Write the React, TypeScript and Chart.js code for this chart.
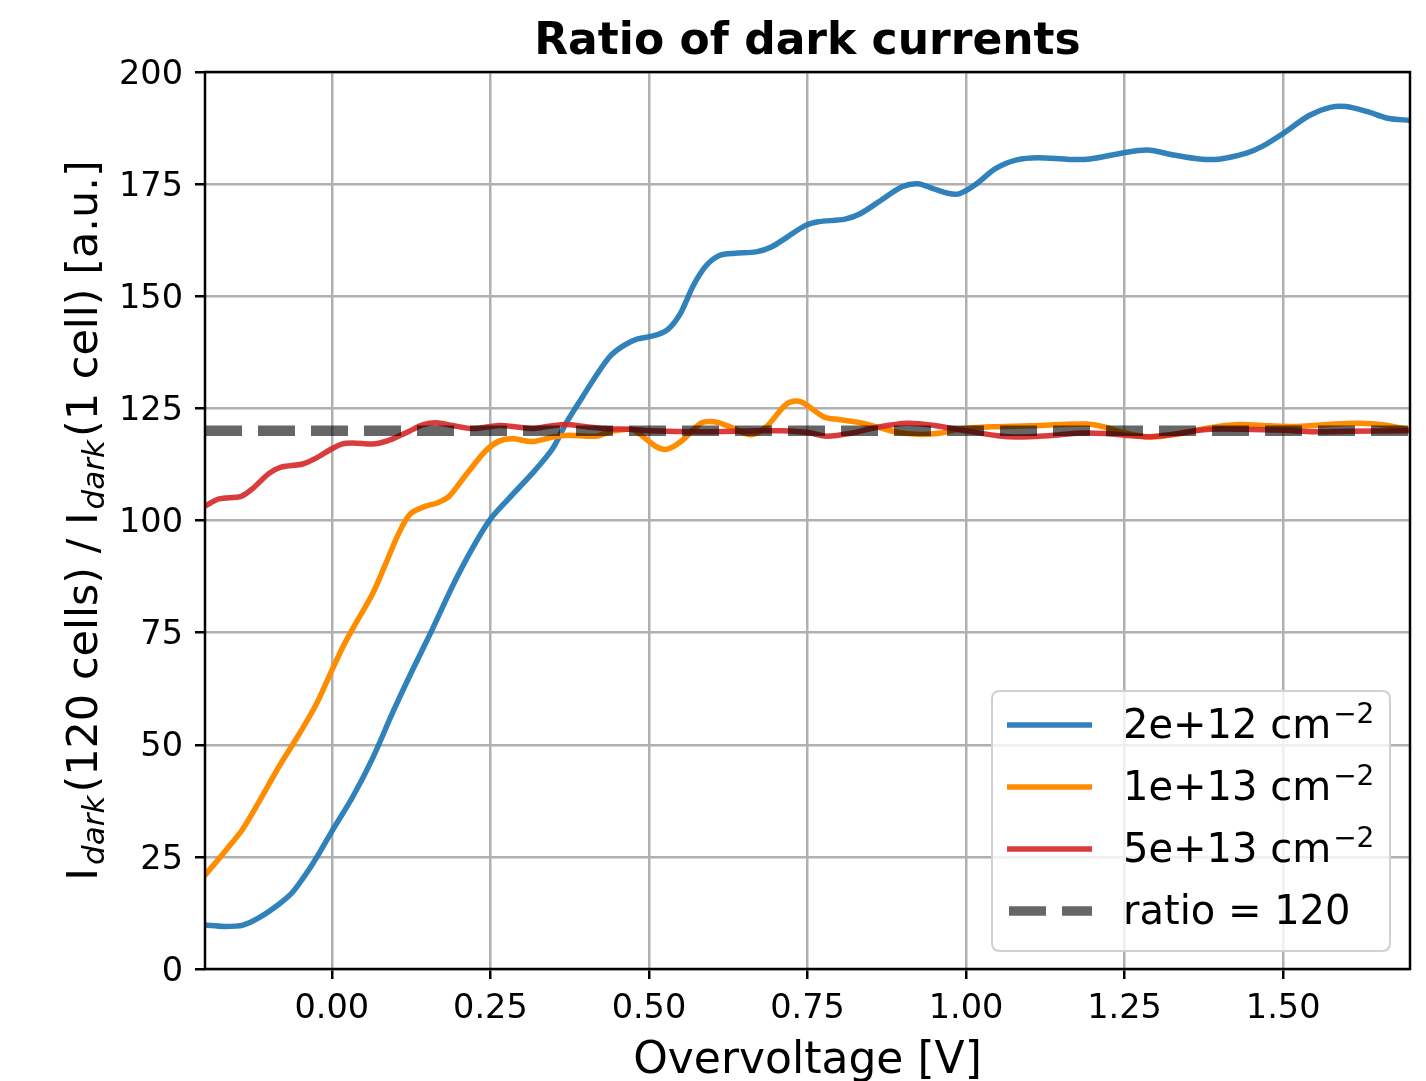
import React, { useEffect, useRef } from 'react';
import { Chart, registerables } from 'chart.js';

Chart.register(...registerables);

// ---------- data ----------
const X_MIN = -0.2;
const X_MAX = 1.7;
const Y_MIN = 0;
const Y_MAX = 200;
const X_TICKS = [0, 0.25, 0.5, 0.75, 1.0, 1.25, 1.5];
const X_TICK_LABELS = ['0.00', '0.25', '0.50', '0.75', '1.00', '1.25', '1.50'];
const Y_TICKS = [0, 25, 50, 75, 100, 125, 150, 175, 200];

const TITLE = 'Ratio of dark currents';
const X_LABEL = 'Overvoltage [V]';

const BLUE_X = [-0.2, -0.17, -0.14, -0.114, -0.083, -0.062, -0.036, -0.018, 0, 0.033, 0.064, 0.096, 0.127, 0.159, 0.19, 0.222, 0.25, 0.279, 0.316, 0.348, 0.369, 0.395, 0.42, 0.44, 0.46, 0.48, 0.508, 0.529, 0.549, 0.57, 0.59, 0.611, 0.636, 0.669, 0.693, 0.718, 0.747, 0.767, 0.809, 0.833, 0.866, 0.899, 0.924, 0.948, 0.973, 0.99, 1.014, 1.047, 1.08, 1.113, 1.163, 1.195, 1.245, 1.286, 1.327, 1.368, 1.401, 1.442, 1.467, 1.5, 1.541, 1.574, 1.599, 1.632, 1.665, 1.7];
const BLUE_Y = [9.8, 9.5, 9.8, 11.5, 14.5, 17.1, 22.2, 26.3, 30.7, 38.4, 46.9, 57.2, 66.6, 75.9, 85.3, 93.9, 100.3, 104.9, 110.5, 116.0, 121.6, 127.5, 133.0, 136.8, 139.0, 140.4, 141.2, 142.5, 146.0, 152.4, 156.8, 159.1, 159.6, 159.9, 161.0, 163.2, 165.8, 166.6, 167.2, 168.4, 171.4, 174.4, 175.1, 174.0, 172.9, 172.9, 174.8, 178.5, 180.4, 180.9, 180.5, 180.6, 181.9, 182.6, 181.5, 180.6, 180.6, 181.9, 183.4, 186.3, 190.3, 192.1, 192.3, 191.2, 189.7, 189.2];

const ORANGE_X = [-0.2, -0.167, -0.141, -0.114, -0.083, -0.051, -0.025, 0, 0.017, 0.033, 0.064, 0.085, 0.106, 0.124, 0.148, 0.166, 0.185, 0.211, 0.243, 0.264, 0.285, 0.316, 0.348, 0.374, 0.416, 0.442, 0.474, 0.49, 0.511, 0.529, 0.553, 0.582, 0.603, 0.628, 0.661, 0.685, 0.718, 0.739, 0.776, 0.8, 0.833, 0.866, 0.895, 0.93, 0.96, 0.99, 1.04, 1.1, 1.15, 1.19, 1.22, 1.25, 1.29, 1.33, 1.38, 1.43, 1.48, 1.53, 1.58, 1.62, 1.66, 1.7];
const ORANGE_Y = [20.9, 26.5, 31.1, 37.5, 45.2, 52.5, 58.9, 66.6, 71.7, 75.9, 83.6, 90.4, 97.3, 101.5, 103.2, 103.9, 105.4, 110.1, 115.6, 117.7, 118.2, 117.6, 118.6, 119.0, 118.8, 119.9, 120.3, 118.8, 116.5, 115.9, 117.9, 121.7, 122.0, 120.9, 119.1, 120.9, 126.1, 126.5, 123.1, 122.5, 121.8, 120.6, 119.6, 119.2, 119.5, 120.4, 120.9, 121.1, 121.4, 121.5, 120.8, 119.5, 118.6, 119.2, 120.6, 121.4, 121.1, 121.0, 121.5, 121.7, 121.3, 120.2];

const RED_X = [-0.2, -0.178, -0.143, -0.125, -0.099, -0.08, -0.046, -0.025, 0, 0.017, 0.033, 0.069, 0.096, 0.122, 0.143, 0.164, 0.19, 0.222, 0.264, 0.295, 0.316, 0.342, 0.369, 0.395, 0.432, 0.474, 0.5, 0.586, 0.669, 0.71, 0.751, 0.78, 0.82, 0.86, 0.907, 0.95, 1.0, 1.05, 1.08, 1.13, 1.18, 1.22, 1.26, 1.29, 1.33, 1.38, 1.45, 1.5, 1.55, 1.6, 1.7];
const RED_Y = [103.2, 104.8, 105.4, 107.1, 110.5, 111.9, 112.6, 113.9, 116.0, 117.1, 117.3, 117.1, 118.2, 119.9, 121.3, 121.8, 121.2, 120.5, 121.2, 120.8, 120.5, 121.0, 121.4, 121.0, 120.5, 120.3, 120.0, 119.8, 120.0, 120.0, 119.6, 118.8, 119.5, 120.8, 121.7, 121.2, 120.0, 118.9, 118.6, 118.9, 119.5, 119.4, 118.9, 118.7, 119.3, 120.3, 120.3, 120.1, 119.8, 119.9, 120.0];

const RATIO_LEVEL = 120;

const SERIES_LABELS = ['2e+12', '1e+13', '5e+13'];
const RATIO_LABEL = 'ratio = 120';
const UNIT = 'cm';
const UNIT_EXP = '\u22122';

// ---------- styles ----------
const FONT = '"DejaVu Sans", "Liberation Sans", sans-serif';
const BLUE = 'rgba(31,119,180,0.92)';
const ORANGE = '#ff8c00';
const RED = 'rgba(214,39,40,0.9)';
const DASH_COLOR = 'rgba(0,0,0,0.6)';
const LINE_W = 5.5;
const DASH_W = 10.5;
const DASH = [37, 16];

const zip = (xs: number[], ys: number[]) => xs.map((x, i) => ({ x, y: ys[i] }));

const decorPlugin = {
  id: 'decor',
  afterDatasetsDraw(chart: any) {
    const { ctx, chartArea: a } = chart;
    ctx.save();
    // frame
    ctx.strokeStyle = '#000';
    ctx.lineWidth = 2.5;
    ctx.strokeRect(a.left, a.top, a.right - a.left, a.bottom - a.top);

    // legend
    const bw = 398, bh = 260;
    const bx = a.right - 20 - bw;
    const by = a.bottom - 18 - bh;
    const r = 8;
    ctx.beginPath();
    ctx.moveTo(bx + r, by);
    ctx.lineTo(bx + bw - r, by);
    ctx.quadraticCurveTo(bx + bw, by, bx + bw, by + r);
    ctx.lineTo(bx + bw, by + bh - r);
    ctx.quadraticCurveTo(bx + bw, by + bh, bx + bw - r, by + bh);
    ctx.lineTo(bx + r, by + bh);
    ctx.quadraticCurveTo(bx, by + bh, bx, by + bh - r);
    ctx.lineTo(bx, by + r);
    ctx.quadraticCurveTo(bx, by, bx + r, by);
    ctx.closePath();
    ctx.fillStyle = 'rgba(255,255,255,0.8)';
    ctx.fill();
    ctx.strokeStyle = '#d0d0d0';
    ctx.lineWidth = 2;
    ctx.stroke();

    const rows = [
      { color: BLUE, text: SERIES_LABELS[0], exp: true, dash: false },
      { color: ORANGE, text: SERIES_LABELS[1], exp: true, dash: false },
      { color: RED, text: SERIES_LABELS[2], exp: true, dash: false },
      { color: DASH_COLOR, text: RATIO_LABEL, exp: false, dash: true },
    ];
    rows.forEach((row, i) => {
      const cy = by + 34 + i * 62;
      ctx.beginPath();
      ctx.strokeStyle = row.color;
      ctx.lineWidth = row.dash ? DASH_W - 1 : LINE_W;
      ctx.setLineDash(row.dash ? DASH : []);
      ctx.lineCap = 'butt';
      ctx.moveTo(bx + 15 + (row.dash ? 2 : 0), cy);
      ctx.lineTo(bx + 100, cy);
      ctx.stroke();
      ctx.setLineDash([]);

      ctx.fillStyle = '#000';
      ctx.textAlign = 'left';
      ctx.textBaseline = 'alphabetic';
      ctx.font = `40px ${FONT}`;
      const tx = bx + 131;
      const base = cy + 13;
      const label = row.exp ? `${row.text} ${UNIT}` : row.text;
      ctx.fillText(label, tx, base);
      if (row.exp) {
        const w = ctx.measureText(label).width;
        ctx.font = `28px ${FONT}`;
        ctx.fillText(UNIT_EXP, tx + w + 2, base - 15);
      }
    });
    ctx.restore();
  },
  afterDraw(chart: any) {
    const { ctx, chartArea: a } = chart;
    ctx.save();
    ctx.fillStyle = '#000';
    // title
    ctx.font = `bold 44px ${FONT}`;
    ctx.textAlign = 'center';
    ctx.textBaseline = 'alphabetic';
    ctx.fillText(TITLE, (a.left + a.right) / 2, a.top - 18);

    // x label
    ctx.font = `44px ${FONT}`;
    ctx.fillText(X_LABEL, (a.left + a.right) / 2, a.bottom + 104);

    // y label with subscripts
    const segs = [
      { t: 'I', sub: false, gapAfter: 3 },
      { t: 'dark', sub: true, gapAfter: 3 },
      { t: '(120 cells) / I', sub: false, gapAfter: 3 },
      { t: 'dark', sub: true, gapAfter: 3 },
      { t: '(1 cell) [a.u.]', sub: false, gapAfter: 0 },
    ];
    const mainFont = `43px ${FONT}`;
    const subFont = `italic 31px ${FONT}`;
    let total = 0;
    const widths = segs.map((s) => {
      ctx.font = s.sub ? subFont : mainFont;
      const w = ctx.measureText(s.t).width;
      total += w + s.gapAfter;
      return w;
    });
    const cx = 97;
    const cy = (a.top + a.bottom) / 2;
    ctx.translate(cx, cy);
    ctx.rotate(-Math.PI / 2);
    ctx.textAlign = 'left';
    let x = -total / 2;
    segs.forEach((s, i) => {
      ctx.font = s.sub ? subFont : mainFont;
      ctx.fillText(s.t, x, s.sub ? 7 : 0);
      x += widths[i] + s.gapAfter;
    });
    ctx.restore();
  },
};

export default function App() {
  const ref = useRef<HTMLCanvasElement | null>(null);

  useEffect(() => {
    document.body.style.margin = '0';
    document.body.style.overflow = 'hidden';
    const canvas = ref.current;
    if (!canvas) return;

    const line = (data: { x: number; y: number }[], color: string, order: number) => ({
      data,
      borderColor: color,
      backgroundColor: color,
      borderWidth: LINE_W,
      pointRadius: 0,
      tension: 0.3,
      fill: false,
      order,
      borderCapStyle: 'round',
      borderJoinStyle: 'round',
    });

    const chart = new Chart(canvas, {
      type: 'line',
      data: {
        datasets: [
          line(zip(BLUE_X, BLUE_Y), BLUE, 3),
          line(zip(ORANGE_X, ORANGE_Y), ORANGE, 2),
          line(zip(RED_X, RED_Y), RED, 1),
          {
            data: [
              { x: X_MIN, y: RATIO_LEVEL },
              { x: X_MAX, y: RATIO_LEVEL },
            ],
            borderColor: DASH_COLOR,
            borderWidth: DASH_W,
            borderDash: DASH,
            borderCapStyle: 'butt',
            pointRadius: 0,
            fill: false,
            order: 0,
          } as any,
        ] as any,
      },
      options: {
        responsive: false,
        maintainAspectRatio: false,
        animation: false,
        devicePixelRatio: 1,
        events: [],
        layout: { padding: { top: 72, right: 16, bottom: 0, left: 0 } },
        plugins: {
          legend: { display: false },
          tooltip: { enabled: false },
          title: { display: false },
        },
        scales: {
          x: {
            type: 'linear',
            min: X_MIN,
            max: X_MAX,
            afterBuildTicks: (scale: any) => {
              scale.ticks = X_TICKS.map((v) => ({ value: v }));
            },
            afterFit: (scale: any) => {
              scale.height = 112;
            },
            ticks: {
              autoSkip: false,
              maxRotation: 0,
              padding: 10,
              color: '#000',
              font: { family: FONT, size: 33.5 },
              callback: (_v: any, i: number) => X_TICK_LABELS[i],
            },
            grid: {
              color: '#b0b0b0',
              lineWidth: 2.5,
              tickColor: '#000',
              tickLength: 10,
              tickWidth: 2.5,
              drawTicks: true,
            },
            border: { display: false },
            title: { display: false },
          },
          y: {
            type: 'linear',
            min: Y_MIN,
            max: Y_MAX,
            afterBuildTicks: (scale: any) => {
              scale.ticks = Y_TICKS.map((v) => ({ value: v }));
            },
            afterFit: (scale: any) => {
              scale.width = 205;
            },
            ticks: {
              autoSkip: false,
              padding: 12,
              labelOffset: 3,
              color: '#000',
              font: { family: FONT, size: 33.5 },
              callback: (v: any) => String(v),
            },
            grid: {
              color: '#b0b0b0',
              lineWidth: 2.5,
              tickColor: '#000',
              tickLength: 10,
              tickWidth: 2.5,
              drawTicks: true,
            },
            border: { display: false },
          },
        },
      } as any,
      plugins: [decorPlugin],
    });

    return () => chart.destroy();
  }, []);

  return (
    <div style={{ width: 1426, height: 1081, position: 'relative', background: '#fff' }}>
      <canvas ref={ref} width={1426} height={1081} style={{ display: 'block' }} />
    </div>
  );
}
